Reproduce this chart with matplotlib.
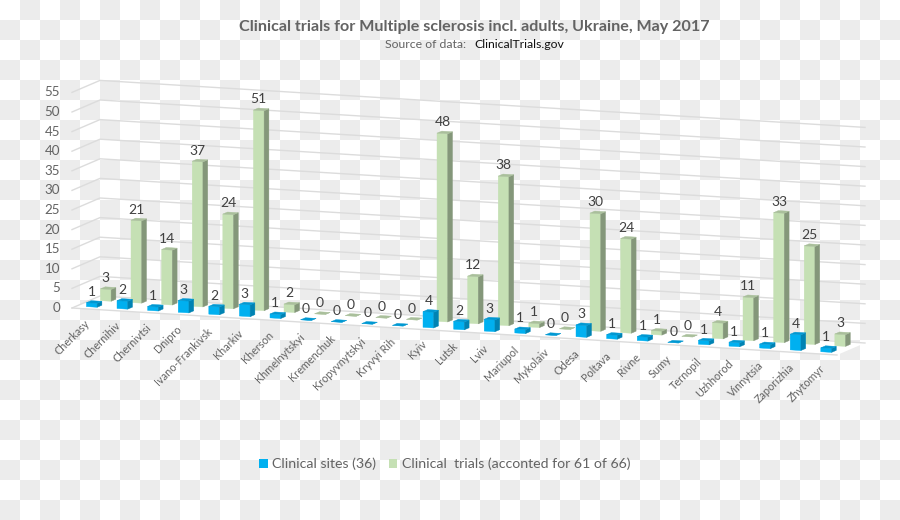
import numpy as np
import matplotlib
matplotlib.use('Agg')
import matplotlib.pyplot as plt
from matplotlib.patches import Polygon, Patch

plt.rcParams['font.family'] = ['Lato', 'DejaVu Sans']

# data
cities = ['Cherkasy', 'Chernihiv', 'Chernivtsi', 'Dnipro', 'Ivano-Frankivsk', 'Kharkiv',
          'Kherson', 'Khmelnytskyi', 'Kremenchuk', 'Kropyvnytskyi', 'Kryvyi Rih', 'Kyiv',
          'Lutsk', 'Lviv', 'Mariupol', 'Mykolaiv', 'Odesa', 'Poltava', 'Rivne', 'Sumy',
          'Ternopil', 'Uzhhorod', 'Vinnytsia', 'Zaporizhia', 'Zhytomyr']
sites = [1, 2, 1, 3, 2, 3, 1, 0, 0, 0, 0, 4, 2, 3, 1, 0, 3, 1, 1, 0, 1, 1, 1, 4, 1]
trials = [3, 21, 14, 37, 24, 51, 2, 0, 0, 0, 0, 48, 12, 38, 1, 0, 30, 24, 1, 0, 4, 11, 33, 25, 3]
yticks = list(range(0, 60, 5))

# colours: front, side, top
blue = ('#00b0f0', '#0083b3', '#0098d2')
green = ('#c5e0b4', '#84977a', '#a9bf9b')
grid = '#dcdcdc'
gray = '#636363'


# oblique projection of the Excel 3D chart: category, depth, value -> pixels
def project(x, z, v):
    return 72 + 30.6 * x + 14 * z, 308 + 1.88 * x - 6 * z - 3.92 * v


def bar3d(ax, i, row, v, colors):
    x0, x1 = i + 0.32, i + 0.67
    z0, z1 = row + 0.33, row + 0.67
    front = [project(x0, z0, 0), project(x1, z0, 0), project(x1, z0, v), project(x0, z0, v)]
    side = [project(x1, z0, 0), project(x1, z1, 0), project(x1, z1, v), project(x1, z0, v)]
    top = [project(x0, z0, v), project(x1, z0, v), project(x1, z1, v), project(x0, z1, v)]
    for face, c in zip([front, side, top], colors):
        ax.add_patch(Polygon(face, closed=True, fc=c, ec=c, lw=0.3, zorder=3))
    lx, ly = project((x0 + x1) / 2, z0, v)
    ax.text(lx, ly - 11, str(v), ha='center', va='center', fontsize=10, color='#404040', zorder=5)


fig = plt.figure(figsize=(9, 5.2), dpi=100)
ax = fig.add_axes([0, 0, 1, 1])
ax.set_xlim(0, 900)
ax.set_ylim(520, 0)
ax.axis('off')

# transparency checker behind the picture
checker = np.indices((26, 45)).sum(axis=0) % 2
ax.imshow(checker, cmap=plt.matplotlib.colors.ListedColormap(['#ffffff', '#ececec']),
          extent=(0, 900, 520, 0), interpolation='nearest', aspect='auto', zorder=0)

# floor and walls
n = len(cities)
floor = [project(0, 0, 0), project(n, 0, 0), project(n, 2, 0), project(0, 2, 0)]
ax.add_patch(Polygon(floor, closed=True, fc='white', ec='none', zorder=1))
for t in yticks:
    pts = np.array([project(0, 0, t), project(0, 2, t), project(n, 2, t)])
    ax.plot(pts[:, 0], pts[:, 1], color=grid, lw=1.0, zorder=2)
    lx, ly = project(0, 0, t)
    ax.text(lx - 12, ly, str(t), ha='right', va='center', fontsize=9.6, color=gray)
pts = np.array([project(0, 0, 0), project(n, 0, 0)])
ax.plot(pts[:, 0], pts[:, 1], color=grid, lw=1.0, zorder=2)

for i in range(n):
    bar3d(ax, i, 1, trials[i], green)
    bar3d(ax, i, 0, sites[i], blue)
    lx, ly = project(i + 0.5, 0, 0)
    ax.text(lx + 1, ly + 13, cities[i], rotation=45, rotation_mode='anchor', ha='right', va='center',
            fontsize=7.8, color=gray)

ax.text(474, 27, 'Clinical trials for Multiple sclerosis incl. adults, Ukraine, May 2017', ha='center',
        va='center', fontsize=11.6, fontweight='bold', color=gray)
ax.text(466, 44.5, 'Source of data:', ha='right', va='center', fontsize=8.8, color=gray)
ax.text(474, 44.5, 'ClinicalTrials.gov', ha='left', va='center', fontsize=8.8, color='#111111')

handles = [Patch(fc=blue[0], label='Clinical sites (36)'),
           Patch(fc=green[0], label='Clinical  trials (acconted for 61 of 66)')]
ax.legend(handles=handles, ncol=2, loc='center', bbox_to_anchor=(444.5 / 900, 1 - 464 / 520), frameon=False,
          fontsize=10.2, labelcolor=gray, handlelength=0.62, handleheight=0.62, handletextpad=0.3, columnspacing=0.9)

fig.savefig('out.png', dpi=100)
